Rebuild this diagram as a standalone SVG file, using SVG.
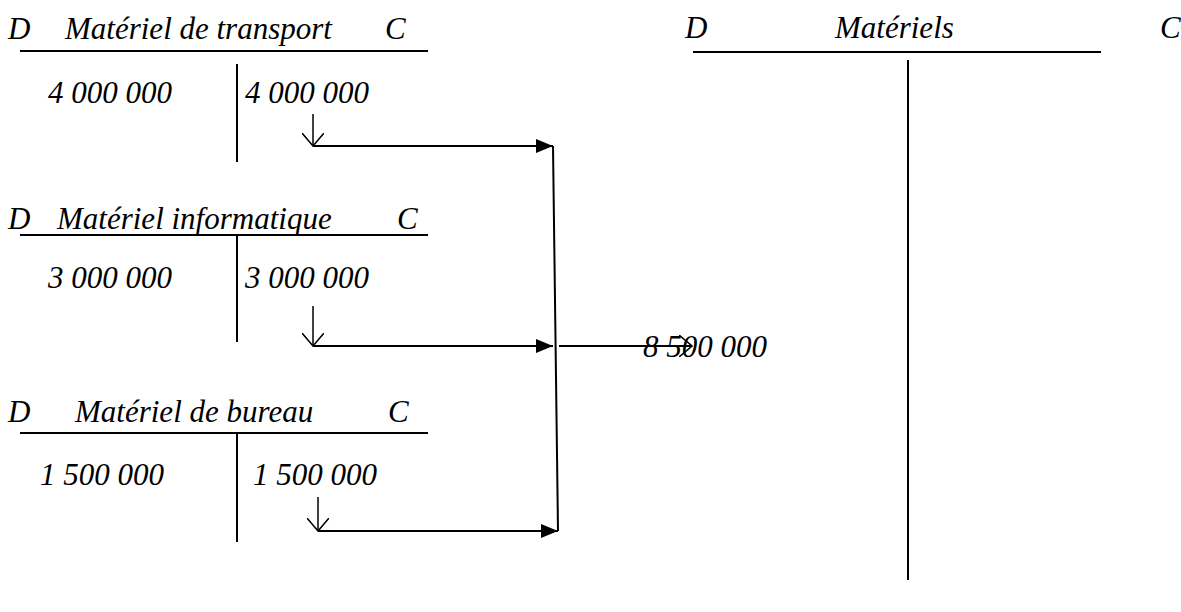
<svg xmlns="http://www.w3.org/2000/svg" width="1181" height="612" viewBox="0 0 1181 612">
  <style>
    text { font-family: "Liberation Serif", "Times New Roman", serif; font-style: italic; font-size: 31px; fill: #000; }
    .ln { stroke: #000; stroke-width: 2; fill: none; }
    .stem { stroke: #000; stroke-width: 1.5; fill: none; }
  </style>
  <defs>
    <marker id="solid" viewBox="0 0 17 14" refX="17" refY="7" markerWidth="17" markerHeight="14" markerUnits="userSpaceOnUse" orient="auto">
      <path d="M0,0 L17,7 L0,14 Z" fill="#000"/>
    </marker>
    <marker id="open" viewBox="0 0 14 22" refX="13" refY="11" markerWidth="14" markerHeight="22" markerUnits="userSpaceOnUse" orient="auto">
      <path d="M0,0 L13,11 L0,22" fill="none" stroke="#000" stroke-width="1.5"/>
    </marker>
  </defs>

  <!-- T-account: Matériel de transport -->
  <g id="compte-transport">
    <text x="8" y="39">D</text>
    <text x="65" y="39">Matériel de transport</text>
    <text x="385" y="39">C</text>
    <line class="ln" x1="20" y1="51" x2="428" y2="51"/>
    <line class="ln" x1="237" y1="64" x2="237" y2="162"/>
    <text x="48" y="103">4 000 000</text>
    <text x="245" y="103">4 000 000</text>
  </g>

  <!-- T-account: Matériel informatique -->
  <g id="compte-informatique">
    <text x="8" y="229">D</text>
    <text x="57" y="229">Matériel informatique</text>
    <text x="397" y="229">C</text>
    <line class="ln" x1="20" y1="235" x2="428" y2="235"/>
    <line class="ln" x1="237" y1="235" x2="237" y2="342"/>
    <text x="48" y="288">3 000 000</text>
    <text x="245" y="288">3 000 000</text>
  </g>

  <!-- T-account: Matériel de bureau -->
  <g id="compte-bureau">
    <text x="8" y="422">D</text>
    <text x="75" y="422">Matériel de bureau</text>
    <text x="388" y="422">C</text>
    <line class="ln" x1="20" y1="433" x2="428" y2="433"/>
    <line class="ln" x1="237" y1="433" x2="237" y2="542"/>
    <text x="40" y="485">1 500 000</text>
    <text x="253" y="485">1 500 000</text>
  </g>

  <!-- T-account: Matériels -->
  <g id="compte-materiels">
    <text x="685" y="38">D</text>
    <text x="835" y="38">Matériels</text>
    <text x="1160" y="38">C</text>
    <line class="ln" x1="693" y1="52" x2="1101" y2="52"/>
    <line class="ln" x1="908" y1="60" x2="908" y2="580"/>
    <text x="643" y="357">8 500 000</text>
  </g>

  <!-- Transfers -->
  <g id="connecteurs">
    <line class="stem" x1="313" y1="114" x2="313" y2="146" marker-end="url(#open)"/>
    <line class="ln" x1="313" y1="146" x2="553" y2="146" marker-end="url(#solid)"/>
    <line class="stem" x1="313" y1="306" x2="313" y2="346" marker-end="url(#open)"/>
    <line class="ln" x1="313" y1="346" x2="553" y2="346" marker-end="url(#solid)"/>
    <line class="stem" x1="318" y1="497" x2="318" y2="531" marker-end="url(#open)"/>
    <line class="ln" x1="318" y1="531" x2="558" y2="531" marker-end="url(#solid)"/>
    <line class="ln" x1="553" y1="146" x2="558" y2="531"/>
    <line class="ln" x1="559" y1="346" x2="692" y2="346" marker-end="url(#open)"/>
  </g>
</svg>
